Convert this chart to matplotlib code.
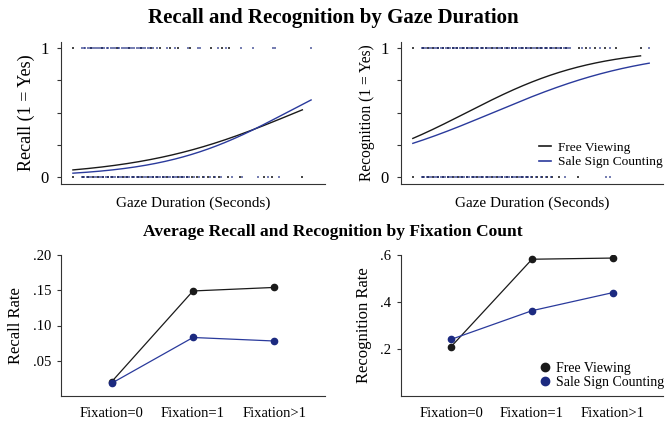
import numpy as np
import matplotlib
matplotlib.use("Agg")
import matplotlib.pyplot as plt
from matplotlib.lines import Line2D

plt.rcParams['font.family'] = ['Liberation Serif', 'DejaVu Serif']

# ---------------- data ----------------
groups = ["Free Viewing", "Sale Sign Counting"]
categories = ["Fixation=0", "Fixation=1", "Fixation>1"]

recall_rate_free = [0.020, 0.149, 0.154]
recall_rate_sale = [0.018, 0.083, 0.078]
recog_rate_free = [0.21, 0.582, 0.587]
recog_rate_sale = [0.241, 0.363, 0.44]

# logistic fit coefficients (intercept, slope per second)
recall_fit_free = (-2.84, 0.253)
recall_fit_sale = (-3.48, 0.323)
recog_fit_free = (-0.85, 0.311)
recog_fit_sale = (-1.04, 0.255)
gaze_range_free = (0.0, 11.56)
gaze_range_sale = (0.0, 12.0)

# observed gaze durations (seconds) by outcome
recall_yes_free = [0.0, 0.92, 1.48, 2.21, 2.83, 3.41, 3.93, 4.37, 4.87, 5.28, 5.88, 6.98, 7.49, 7.84]
recall_yes_sale = [0.44, 0.55, 0.63, 0.74, 0.86, 0.95, 1.05, 1.17, 1.26, 1.38, 1.47, 1.58, 1.70,
                   1.79, 1.91, 2.02, 2.12, 2.25, 2.33, 2.46, 2.55, 2.67, 2.78, 2.88, 3.00, 3.09,
                   3.21, 3.31, 3.44, 3.52, 3.65, 3.76, 3.86, 4.02, 4.22, 4.72, 5.13, 5.78, 6.28,
                   6.38, 7.29, 7.69, 8.49, 9.05, 10.1, 10.2, 12.0]
recall_no_free = [0.0, 0.52, 0.77, 1.02, 1.24, 1.53, 1.76, 1.98, 2.27, 2.51, 2.73, 3.02, 3.26,
                  3.49, 3.77, 4.01, 4.23, 4.52, 4.74, 5.03, 5.27, 5.48, 5.76, 6.02, 6.24, 6.53,
                  6.81, 7.12, 7.38, 7.82, 8.41, 9.65, 10.02, 11.56]
recall_no_sale = [0.45, 0.58, 0.70, 0.81, 0.93, 1.06, 1.18, 1.29, 1.41, 1.54, 1.66, 1.77, 1.90,
                  2.01, 2.13, 2.26, 2.37, 2.49, 2.62, 2.73, 2.85, 2.98, 3.09, 3.22, 3.33, 3.45,
                  3.58, 3.69, 3.81, 3.94, 4.05, 4.18, 4.30, 4.41, 4.54, 4.66, 4.78, 4.90, 5.02,
                  5.14, 5.26, 5.38, 5.50, 5.62, 5.74, 5.86, 6.10, 6.35, 6.62, 6.90, 7.15, 7.45,
                  8.02, 8.52, 9.31, 9.83, 10.4]
recog_yes_free = [0.0, 0.51, 0.78, 1.03, 1.27, 1.52, 1.79, 2.04, 2.26, 2.53, 2.77, 3.01, 3.28,
                  3.52, 3.74, 4.03, 4.27, 4.51, 4.78, 5.02, 5.26, 5.53, 5.77, 6.01, 6.28, 6.52,
                  6.77, 7.03, 7.27, 7.52, 7.78, 8.42, 8.81, 9.27, 9.77, 10.3, 11.56]
recog_yes_sale = [0.45, 0.57, 0.69, 0.82, 0.94, 1.05, 1.18, 1.30, 1.42, 1.53, 1.66, 1.78, 1.89,
                  2.02, 2.14, 2.25, 2.38, 2.50, 2.61, 2.74, 2.86, 2.97, 3.10, 3.22, 3.33, 3.46,
                  3.58, 3.69, 3.82, 3.94, 4.05, 4.18, 4.30, 4.42, 4.53, 4.66, 4.78, 4.89, 5.02,
                  5.14, 5.25, 5.38, 5.50, 5.61, 5.74, 5.86, 5.97, 6.10, 6.22, 6.33, 6.46, 6.58,
                  6.69, 6.82, 6.94, 7.05, 7.18, 7.30, 7.42, 7.53, 7.66, 7.78, 7.89, 8.0, 8.6,
                  9.0, 9.5, 10.0, 12.0]
recog_no_free = [0.0, 0.53, 0.79, 1.02, 1.28, 1.51, 1.77, 2.03, 2.27, 2.52, 2.76, 3.04, 3.27,
                 3.53, 3.76, 4.02, 4.28, 4.52, 4.77, 5.03, 5.27, 5.52, 5.78, 6.04, 6.31, 6.58,
                 6.83, 7.05, 7.40, 8.40]
recog_no_sale = [0.45, 0.57, 0.70, 0.81, 0.93, 1.06, 1.17, 1.29, 1.42, 1.54, 1.65, 1.78, 1.90,
                 2.01, 2.14, 2.26, 2.37, 2.50, 2.62, 2.73, 2.86, 2.98, 3.09, 3.22, 3.34, 3.45,
                 3.58, 3.70, 3.81, 3.94, 4.06, 4.17, 4.30, 4.42, 4.53, 4.66, 4.78, 4.89, 5.02,
                 5.14, 5.25, 5.38, 5.50, 5.61, 5.74, 5.86, 6.02, 6.25, 6.50, 6.74, 7.00, 7.75,
                 9.80, 10.0]

# ---------------- style ----------------
BLACK = "#1a1a1a"
BLUE = "#2a3a9c"
BLUE_M = "#1c2a80"

fig = plt.figure(figsize=(6.65, 4.22), dpi=100)
W, H = 665.0, 422.0


def add_ax(l, t, r, b):
    return fig.add_axes([l / W, 1 - b / H, (r - l) / W, (b - t) / H])


def style(ax):
    for s in ("top", "right"):
        ax.spines[s].set_visible(False)
    for s in ("left", "bottom"):
        ax.spines[s].set_linewidth(0.8)
        ax.spines[s].set_color("#333333")


def logistic(coef, rng):
    x = np.linspace(rng[0], rng[1], 200)
    return x, 1.0 / (1.0 + np.exp(-(coef[0] + coef[1] * x)))


def top_panel(ax, yes_f, yes_s, no_f, no_s, fit_f, fit_s, ylabel, ylsize):
    style(ax)
    ms = 1.9
    ax.plot(no_f, [0] * len(no_f), 's', color=BLACK, ms=ms, mew=0, alpha=0.8)
    ax.plot(yes_f, [1] * len(yes_f), 's', color=BLACK, ms=ms, mew=0, alpha=0.8)
    ax.plot(no_s, [0] * len(no_s), 's', color=BLUE_M, ms=ms, mew=0, alpha=0.6)
    ax.plot(yes_s, [1] * len(yes_s), 's', color=BLUE_M, ms=ms, mew=0, alpha=0.6)
    x, y = logistic(fit_f, gaze_range_free)
    ax.plot(x, y, color=BLACK, lw=1.0)
    x, y = logistic(fit_s, gaze_range_sale)
    ax.plot(x, y, color=BLUE, lw=1.0)
    ax.set_xlim(-0.6, 12.7)
    ax.set_ylim(-0.054, 1.047)
    ax.set_yticks([0, 0.25, 0.5, 0.75, 1])
    ax.set_yticklabels(["0", "", "", "", "1"])
    ax.set_xticks([])
    ax.tick_params(axis='y', length=3, width=0.8, labelsize=12, pad=6, color="#333333")
    ax.set_ylabel(ylabel, fontsize=ylsize, labelpad=4)
    ax.set_xlabel("Gaze Duration (Seconds)", fontsize=11, labelpad=9)


ax1 = add_ax(61, 42, 325, 184)
top_panel(ax1, recall_yes_free, recall_yes_sale, recall_no_free, recall_no_sale,
          recall_fit_free, recall_fit_sale, "Recall (1 = Yes)", 13)
ax2 = add_ax(401, 42, 663, 184)
top_panel(ax2, recog_yes_free, recog_yes_sale, recog_no_free, recog_no_sale,
          recog_fit_free, recog_fit_sale, "Recognition (1 = Yes)", 11.2)
handles = [Line2D([], [], color=BLACK, lw=1.2), Line2D([], [], color=BLUE, lw=1.2)]
ax2.legend(handles, groups, loc="lower right", bbox_to_anchor=(1.035, 0.045), frameon=False,
           fontsize=9.6, handlelength=0.9, handletextpad=0.5, labelspacing=0.15, borderpad=0.2)


def bottom_panel(ax, vf, vs, ylim, yticks, ylabels, ylabel):
    style(ax)
    xs = np.arange(len(categories))
    ax.plot(xs, vf, '-o', color=BLACK, lw=0.9, ms=4.5, mfc=BLACK, mec=BLACK)
    ax.plot(xs, vs, '-o', color=BLUE, lw=0.9, ms=4.5, mfc=BLUE_M, mec=BLUE_M)
    ax.set_xlim(-0.62, 2.62)
    ax.set_ylim(*ylim)
    ax.set_xticks(xs)
    ax.set_xticklabels(categories)
    ax.set_yticks(yticks)
    ax.set_yticklabels(ylabels)
    ax.tick_params(axis='x', length=0, labelsize=10.5, pad=8)
    ax.tick_params(axis='y', length=3, width=0.8, labelsize=10.5, pad=4, color="#333333")
    ax.set_ylabel(ylabel, fontsize=12, labelpad=6)


ax3 = add_ax(61, 255, 325, 396)
bottom_panel(ax3, recall_rate_free, recall_rate_sale, (0, 0.2),
             [0.05, 0.10, 0.15, 0.20], [".05", ".10", ".15", ".20"], "Recall Rate")
ax4 = add_ax(401, 255, 663, 396)
bottom_panel(ax4, recog_rate_free, recog_rate_sale, (0, 0.6),
             [0.2, 0.4, 0.6], [".2", ".4", ".6"], "Recognition Rate")
handles = [Line2D([], [], ls='none', marker='o', color=BLACK, ms=6),
           Line2D([], [], ls='none', marker='o', color=BLUE_M, ms=6)]
ax4.legend(handles, groups, loc="lower right", bbox_to_anchor=(1.04, -0.02), frameon=False,
           fontsize=10, handlelength=0.8, handletextpad=0.4, labelspacing=0.1, borderpad=0.2)

fig.text(333 / W, 1 - 18 / H, "Recall and Recognition by Gaze Duration", ha="center",
         va="center", fontsize=15, fontweight="bold")
fig.text(333 / W, 1 - 232 / H, "Average Recall and Recognition by Fixation Count", ha="center",
         va="center", fontsize=12.6, fontweight="bold")

fig.savefig("out.png", dpi=100)
